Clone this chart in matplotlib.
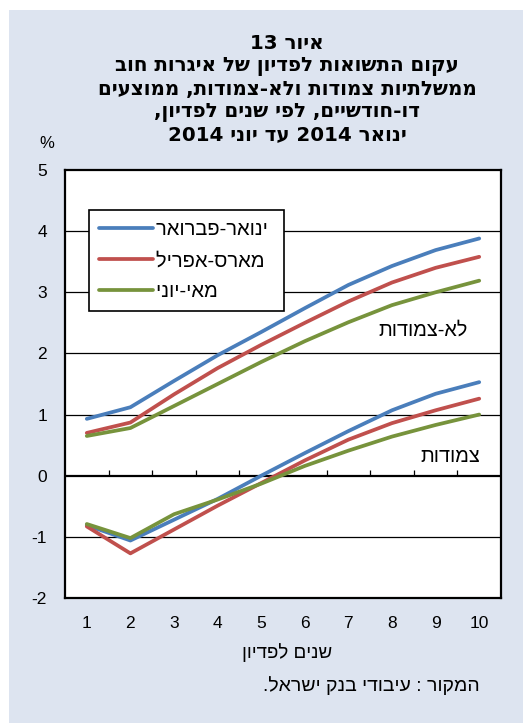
import re

import matplotlib
matplotlib.use("Agg")
import matplotlib.pyplot as plt
from matplotlib.patches import Rectangle

plt.rcParams['font.family'] = ['Liberation Sans', 'DejaVu Sans']
plt.rcParams['axes.unicode_minus'] = False

# years to redemption (category axis)
years = [1, 2, 3, 4, 5, 6, 7, 8, 9, 10]

# non-indexed (לא-צמודות)
nonidx_janfeb = [0.93, 1.12, 1.55, 1.97, 2.35, 2.74, 3.12, 3.43, 3.69, 3.88]
nonidx_marapr = [0.70, 0.87, 1.33, 1.76, 2.14, 2.50, 2.85, 3.16, 3.40, 3.58]
nonidx_mayjun = [0.65, 0.78, 1.14, 1.50, 1.86, 2.20, 2.51, 2.79, 3.00, 3.19]

# indexed (צמודות)
idx_janfeb = [-0.81, -1.06, -0.72, -0.38, 0.00, 0.37, 0.73, 1.07, 1.34, 1.53]
idx_marapr = [-0.83, -1.27, -0.88, -0.49, -0.12, 0.25, 0.59, 0.86, 1.07, 1.26]
idx_mayjun = [-0.79, -1.02, -0.63, -0.39, -0.13, 0.16, 0.41, 0.64, 0.83, 1.00]

series_names = ['ינואר-פברואר', 'מארס-אפריל', 'מאי-יוני']
colors = ['#4a7ebb', '#c0504d', '#77933c']

title_lines = [
    'איור 13',
    'עקום התשואות לפדיון של איגרות חוב',
    'ממשלתיות צמודות ולא-צמודות, ממוצעים',
    'דו-חודשיים, לפי שנים לפדיון,',
    'ינואר 2014 עד יוני 2014',
]


def heb(s):
    # matplotlib has no bidi: flip the string, keep digit runs readable
    out = s[::-1]
    return re.sub(r'\d+', lambda m: m.group(0)[::-1], out)


fig = plt.figure(figsize=(5.23, 7.23), dpi=100, facecolor='white')
fig.patches.append(Rectangle((9 / 523, 0), 1, 1 - 10 / 723, transform=fig.transFigure,
                             facecolor='#dde4f0', edgecolor='none', zorder=-10))

ax = fig.add_axes([65 / 523, 125 / 723, 436 / 523, 428 / 723])
ax.set_zorder(1)
ax.set_facecolor('white')

lw = 2.7
for vals, name, c in zip([nonidx_janfeb, nonidx_marapr, nonidx_mayjun], series_names, colors):
    # trailing space widens the legend box on the right like the original
    ax.plot(years, vals, color=c, lw=lw, label=heb(name) + ' ', solid_capstyle='round', zorder=3)
for vals, c in zip([idx_janfeb, idx_marapr, idx_mayjun], colors):
    ax.plot(years, vals, color=c, lw=lw, solid_capstyle='round', zorder=3)

ax.set_xlim(0.5, 10.5)
ax.set_ylim(-2, 5)
ax.set_yticks(range(-2, 6))
ax.set_xticks(years)
ax.set_xticklabels([str(y) for y in years])

# horizontal grid and the zero axis with category tick marks
for y in [-1, 1, 2, 3, 4]:
    ax.axhline(y, color='black', lw=0.9, zorder=1)
ax.axhline(0, color='black', lw=1.6, zorder=2)
ax.vlines([b + 0.5 for b in years[:-1]], 0, 0.1, color='black', lw=0.9, zorder=2)

for s in ax.spines.values():
    s.set_linewidth(1.6)
    s.set_color('black')

ax.tick_params(axis='x', length=0, pad=13, labelsize=12.5)
ax.tick_params(axis='y', length=0, pad=13, labelsize=12.5)

leg = ax.legend(loc='upper left', bbox_to_anchor=(24 / 436, 1 - 40 / 428), fontsize=14.5,
                frameon=True, fancybox=False, edgecolor='black', framealpha=1,
                handlelength=2.7, handletextpad=0.15, labelspacing=0.6,
                borderpad=0.5, borderaxespad=0)
leg.get_frame().set_linewidth(1.2)

ax.text(9.74, 2.38, heb('לא-צמודות'), ha='right', va='center', fontsize=14.3)
ax.text(10.02, 0.31, heb('צמודות'), ha='right', va='center', fontsize=14.3)

fig.text(287 / 523, 1 - 34 / 723, '\n'.join(heb(t) for t in title_lines), ha='center', va='top',
         fontsize=14.3, fontweight='bold', linespacing=1.22, family=['DejaVu Sans'])
fig.text(47 / 523, 1 - 143 / 723, '%', ha='center', va='center', fontsize=12)
fig.text(287 / 523, 1 - 653 / 723, heb('שנים לפדיון'), ha='center', va='center', fontsize=13.5)
fig.text(480 / 523, 1 - 686 / 723, heb('המקור : עיבודי בנק ישראל.'), ha='right', va='center',
         fontsize=14)

fig.savefig('out.png', dpi=100)
